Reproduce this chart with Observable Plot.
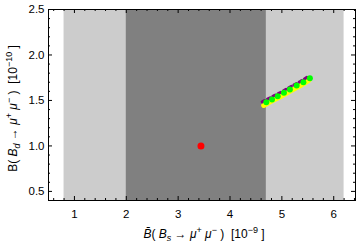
<!DOCTYPE html>
<html>
<head>
<meta charset="utf-8">
<script src="https://cdn.jsdelivr.net/npm/d3@7"></script>
<script src="https://cdn.jsdelivr.net/npm/@observablehq/plot@0.6"></script>
<style>
body { margin: 0; background: #fff; }
svg { font-family: "Liberation Sans", Arial, sans-serif; }
</style>
</head>
<body>
<div id="chart"></div>
<script>
// Bands (x ranges)
const lightBand = [{x1: 0.8, x2: 6.2}];
const darkBand = [{x1: 2.0, x2: 4.7}];
// Red point
const redX = [3.44];
const redY = [1.0];
// Green dots
const greenX = [4.70, 4.81, 4.92, 5.04, 5.155, 5.285, 5.415, 5.54];
const greenY = [1.48, 1.51, 1.545, 1.585, 1.62, 1.665, 1.70, 1.745];
// Yellow band/line
const yellowX = [4.65, 4.76, 4.88, 5.00, 5.12, 5.25, 5.38, 5.52];
const yellowY = [1.445, 1.48, 1.515, 1.55, 1.59, 1.63, 1.67, 1.72];
// Purple dashed line
const purpleX = [4.62, 4.74, 4.86, 4.98, 5.10, 5.23, 5.36, 5.50];
const purpleY = [1.485, 1.52, 1.555, 1.59, 1.63, 1.67, 1.71, 1.76];
// Ticks
const xMajor = [1, 2, 3, 4, 5, 6];
const xMinor = [0.6,0.8,1.2,1.4,1.6,1.8,2.2,2.4,2.6,2.8,3.2,3.4,3.6,3.8,4.2,4.4,4.6,4.8,5.2,5.4,5.6,5.8,6.2,6.4];
const yMajor = [0.5, 1.0, 1.5, 2.0, 2.5];
const yMinor = [0.6,0.7,0.8,0.9,1.1,1.2,1.3,1.4,1.6,1.7,1.8,1.9,2.1,2.2,2.3,2.4];

const W = 360, H = 245;
const mL = 48, mR = 5, mT = 9, mB = 45;
const fw = W - mL - mR, fh = H - mT - mB;

const pts = (xs, ys) => xs.map((x, i) => ({x, y: ys[i]}));

const plot = Plot.plot({
  width: W, height: H,
  marginLeft: mL, marginRight: mR, marginTop: mT, marginBottom: mB,
  x: {domain: [0.5, 6.42]},
  y: {domain: [0.4, 2.5]},
  style: {fontFamily: "Liberation Sans, Arial, sans-serif", fontSize: "11px", color: "#000"},
  marks: [
    Plot.rectX(lightBand, {x1: "x1", x2: "x2", fill: "#cccccc"}),
    Plot.rectX(darkBand, {x1: "x1", x2: "x2", fill: "#808080"}),
    Plot.line(pts(yellowX, yellowY), {x: "x", y: "y", stroke: "#ffff00", strokeWidth: 5}),
    Plot.line(pts(purpleX, purpleY), {x: "x", y: "y", stroke: "#800080", strokeWidth: 3, strokeDasharray: "3,3"}),
    Plot.dot(pts(greenX, greenY), {x: "x", y: "y", r: 3, fill: "#00ff00"}),
    Plot.dot(pts(redX, redY), {x: "x", y: "y", r: 3.5, fill: "#ff0000"}),
    // ticks, inward
    Plot.ruleX(xMajor, {insetTop: fh - 4, stroke: "#000"}),
    Plot.ruleX(xMajor, {insetBottom: fh - 4, stroke: "#000"}),
    Plot.ruleX(xMinor, {insetTop: fh - 2, stroke: "#000"}),
    Plot.ruleX(xMinor, {insetBottom: fh - 2, stroke: "#000"}),
    Plot.ruleY(yMajor, {insetRight: fw - 4, stroke: "#000"}),
    Plot.ruleY(yMajor, {insetLeft: fw - 4, stroke: "#000"}),
    Plot.ruleY(yMinor, {insetRight: fw - 2, stroke: "#000"}),
    Plot.ruleY(yMinor, {insetLeft: fw - 2, stroke: "#000"}),
    Plot.frame({stroke: "#000"}),
    Plot.axisX(xMajor, {tickSize: 0, tickPadding: 9, tickFormat: d3.format("d"), label: null, fontSize: 11.5}),
    Plot.axisY(yMajor, {tickSize: 0, tickPadding: 4, tickFormat: d3.format(".1f"), label: null, fontSize: 11.5})
  ]
});

document.getElementById("chart").appendChild(plot);

const svg = d3.select(plot);
// X axis title
const xt = svg.append("text")
  .attr("x", 204).attr("y", 238)
  .attr("text-anchor", "middle")
  .attr("font-size", 12).attr("fill", "#000");
xt.append("tspan").attr("font-style", "italic").text("B\u0304");
xt.append("tspan").text("( ");
xt.append("tspan").attr("font-style", "italic").text("B");
xt.append("tspan").attr("font-size", 9).attr("dy", 3).attr("font-style", "italic").text("s");
xt.append("tspan").attr("dy", -3).text(" \u2192 ");
xt.append("tspan").attr("font-style", "italic").text("\u03bc");
xt.append("tspan").attr("font-size", 9).attr("dy", -5).text("+");
xt.append("tspan").attr("dy", 5).attr("font-style", "italic").text(" \u03bc");
xt.append("tspan").attr("font-size", 9).attr("dy", -5).text("\u2212");
xt.append("tspan").attr("dy", 5).text(" )  [10");
xt.append("tspan").attr("font-size", 9).attr("dy", -5).text("\u22129");
xt.append("tspan").attr("dy", 5).text(" ]");

// Y axis title
const yt = svg.append("text")
  .attr("transform", `translate(17,${mT + fh / 2 + 4}) rotate(-90)`)
  .attr("text-anchor", "middle")
  .attr("font-size", 12).attr("fill", "#000");
yt.append("tspan").text("B( ");
yt.append("tspan").attr("font-style", "italic").text("B");
yt.append("tspan").attr("font-size", 9).attr("dy", 3).attr("font-style", "italic").text("d");
yt.append("tspan").attr("dy", -3).text(" \u2192 ");
yt.append("tspan").attr("font-style", "italic").text("\u03bc");
yt.append("tspan").attr("font-size", 9).attr("dy", -5).text("+");
yt.append("tspan").attr("dy", 5).attr("font-style", "italic").text(" \u03bc");
yt.append("tspan").attr("font-size", 9).attr("dy", -5).text("\u2212");
yt.append("tspan").attr("dy", 5).text(" )  [10");
yt.append("tspan").attr("font-size", 9).attr("dy", -5).text("\u221210");
yt.append("tspan").attr("dy", 5).text(" ]");
</script>
</body>
</html>
